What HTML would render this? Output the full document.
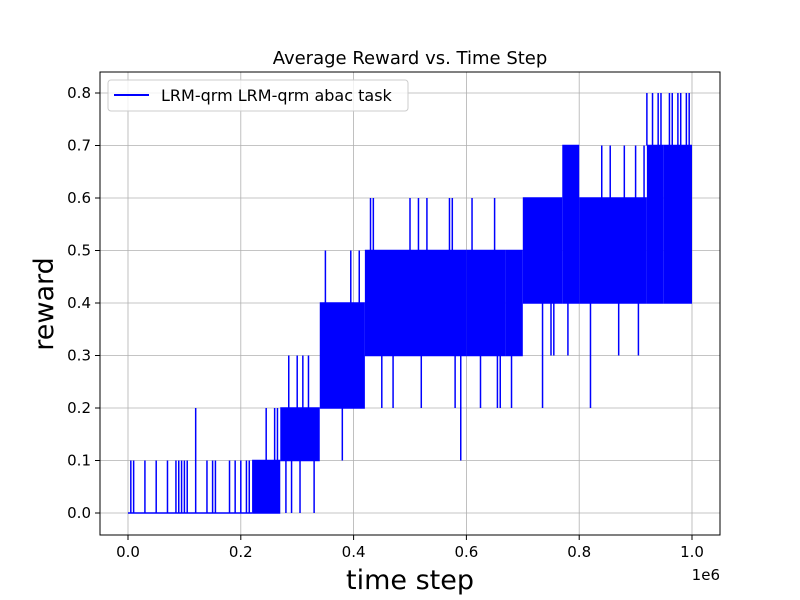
<!DOCTYPE html>
<html><head><meta charset="utf-8"><style>body{margin:0;background:#fff}svg{display:block;font-family:"DejaVu Sans","Liberation Sans",sans-serif}</style></head>
<body>
<svg id="chart" width="800" height="600">
<rect width="800" height="600" fill="#fff"/>
<g id="grid"></g>
<g id="series"></g>
<rect x="100" y="72" width="620" height="463" fill="none" stroke="#000" stroke-width="1"/>
<g id="ticks"></g>
<text x="410" y="64" text-anchor="middle" font-size="18">Average Reward vs. Time Step</text>
<text x="410" y="589" text-anchor="middle" font-size="27">time step</text>
<text transform="translate(53,304) rotate(-90)" text-anchor="middle" font-size="27">reward</text>
<text x="720" y="580" text-anchor="end" font-size="15">1e6</text>
<g>
<rect x="108" y="80" width="300" height="31" rx="3" fill="#fff" fill-opacity="0.8" stroke="#ccc"/>
<line x1="114" y1="95" x2="149" y2="95" stroke="#0000ff" stroke-width="2"/>
<text x="161" y="101" font-size="16">LRM-qrm LRM-qrm abac task</text>
</g>
</svg>
<script>
const xTicks=[0,0.2,0.4,0.6,0.8,1.0];
const xTickLabels=["0.0","0.2","0.4","0.6","0.8","1.0"];
const yTicks=[0,0.1,0.2,0.3,0.4,0.5,0.6,0.7,0.8];
const yTickLabels=["0.0","0.1","0.2","0.3","0.4","0.5","0.6","0.7","0.8"];
// dense oscillation band per time segment (time step in 1e6)
const segStart=[0.0,0.22,0.27,0.34,0.42,0.60,0.67,0.70,0.77,0.80,0.92,0.95];
const segEnd  =[0.22,0.27,0.34,0.42,0.60,0.67,0.70,0.77,0.80,0.92,0.95,1.0];
const segLow  =[0.0,0.0,0.1,0.2,0.3,0.3,0.3,0.4,0.4,0.4,0.4,0.4];
const segHigh =[0.0,0.1,0.2,0.4,0.5,0.5,0.5,0.6,0.7,0.6,0.7,0.7];
// isolated excursions outside the band
const spikeX=[0.005,0.01,0.03,0.05,0.07,0.085,0.09,0.095,0.1,0.105,0.12,0.14,0.15,0.155,0.18,0.19,0.2,0.21,0.215,
0.245,0.26,0.265,0.285,0.3,0.31,0.32,0.28,0.29,0.305,0.33,
0.35,0.395,0.41,0.38,
0.43,0.435,0.5,0.515,0.53,0.57,0.575,0.61,0.65,0.59,
0.41,0.45,0.47,0.52,0.58,0.625,0.655,0.66,0.68,0.735,0.82,
0.75,0.755,0.78,0.87,0.905,
0.84,0.855,0.88,0.9,0.915,
0.92,0.93,0.94,0.945,0.96,0.965,0.975,0.98,0.99,0.995];
const spikeY=[0.1,0.1,0.1,0.1,0.1,0.1,0.1,0.1,0.1,0.1,0.2,0.1,0.1,0.1,0.1,0.1,0.1,0.1,0.1,
0.2,0.2,0.2,0.3,0.3,0.3,0.3,0,0,0,0,
0.5,0.5,0.5,0.1,
0.6,0.6,0.6,0.6,0.6,0.6,0.6,0.6,0.6,0.1,
0.2,0.2,0.2,0.2,0.2,0.2,0.2,0.2,0.2,0.2,0.2,
0.3,0.3,0.3,0.3,0.3,
0.7,0.7,0.7,0.7,0.7,
0.8,0.8,0.8,0.8,0.8,0.8,0.8,0.8,0.8,0.8];
const NS="http://www.w3.org/2000/svg";
const xs=v=>128+v*564;
const ys=v=>513-v*525;
function mk(tag,attrs,parent){const e=document.createElementNS(NS,tag);for(const k in attrs)e.setAttribute(k,attrs[k]);parent.appendChild(e);return e;}
const grid=document.getElementById('grid'),ticks=document.getElementById('ticks'),series=document.getElementById('series');
xTicks.forEach((t,i)=>{
 const g=mk('line',{x1:xs(t),x2:xs(t),y1:72,y2:535,stroke:'#b0b0b0','stroke-width':0.8},grid);
 
 
 const tk=mk('line',{x1:xs(t),x2:xs(t),y1:535,y2:540,stroke:'#000'},ticks);
 
 
 const tx=mk('text',{x:xs(t),y:557,'text-anchor':'middle','font-size':15},ticks);
 tx.textContent=xTickLabels[i];
 
 
});
yTicks.forEach((t,i)=>{
 const g=mk('line',{x1:100,x2:720,y1:ys(t),y2:ys(t),stroke:'#b0b0b0','stroke-width':0.8},grid);
 
 
 const tk=mk('line',{x1:95,x2:100,y1:ys(t),y2:ys(t),stroke:'#000'},ticks);
 
 
 const tx=mk('text',{x:91,y:ys(t)+5,'text-anchor':'end','font-size':15},ticks);
 tx.textContent=yTickLabels[i];
 
 
});
function bandAt(x){for(let i=0;i<segStart.length;i++){if(x>=segStart[i]&&x<segEnd[i])return [segLow[i],segHigh[i]];}return [segLow[segLow.length-1],segHigh[segHigh.length-1]];}
segStart.forEach((s,i)=>{
 const y1=ys(segHigh[i]),y2=ys(segLow[i]);
 const r=mk('rect',{x:xs(s),y:y1-0.75,width:xs(segEnd[i])-xs(s),height:(y2-y1)+1.5,fill:'#0000ff'},series);
 
 
});
spikeX.forEach((x,i)=>{
 const b=bandAt(x);const v=spikeY[i];
 const from=v>b[1]?b[1]:b[0];
 const l=mk('line',{x1:xs(x),x2:xs(x),y1:ys(from),y2:ys(v),stroke:'#0000ff','stroke-width':1.5},series);
 
 
});
</script>
</body></html>
